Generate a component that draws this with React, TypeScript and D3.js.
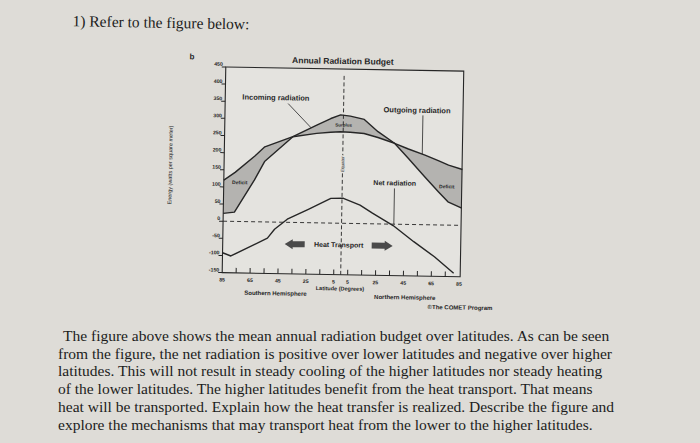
import { useMemo } from "react"
import * as d3 from "d3"

// latitude samples shared by incoming and outgoing curves (negative = south)
const lats = [-85, -77, -63, -56, -36, -19, -9, -2, 5, 15, 25, 37, 47, 59, 69, 76, 86]
const incoming = [23, 27, 122, 176, 250, 285, 305, 316, 313, 304, 269, 236, 193, 140, 97, 68, 50]
const outgoing = [120, 143, 192, 219, 250, 261, 265, 267, 266, 263, 252, 236, 220, 203, 187, 175, 163]

const netLats = [-85, -79, -53, -48, -39, -24, -8, 1, 13, 22, 37, 52, 67, 81]
const netRadiation = [-92, -101, -47, -21, 9, 39, 72, 73, 54, 31, -4, -50, -93, -140]

const yTicks = [450, 400, 350, 300, 250, 200, 150, 100, 50, 0, -50, -100, -150]
const xLabels = [-85, -65, -45, -25, -5, 5, 25, 45, 65, 85]
const xTicks = [-75, -65, -55, -45, -35, -25, -15, -5, 5, 15, 25, 35, 45, 55, 65, 75]

const paragraph = [
  "The figure above shows the mean annual radiation budget over latitudes. As can be seen",
  "from the figure, the net radiation is positive over lower latitudes and negative over higher",
  "latitudes. This will not result in steady cooling of the higher latitudes nor steady heating",
  "of the lower latitudes. The higher latitudes benefit from the heat transport. That means",
  "heat will be transported. Explain how the heat transfer is realized. Describe the figure and",
  "explore the mechanisms that may transport heat from the lower to the higher latitudes.",
]

const sans = "'Liberation Sans', Arial, sans-serif"
const serif = "'Liberation Serif', 'Times New Roman', serif"
const ink = "#262626"

export default function App() {
  const x = d3.scaleLinear().domain([-85, 85]).range([224, 461])
  const y = d3.scaleLinear().domain([-150, 450]).range([274.7, 69])
  const right = 462

  const { band, inLine, outLine, netLine } = useMemo(() => {
    const pts = lats.map((d, i) => ({ lat: d, inc: incoming[i], out: outgoing[i] }))
    const band = d3
      .area<any>()
      .x((d) => x(d.lat))
      .y0((d) => y(d.out))
      .y1((d) => y(d.inc))(pts)
    const inLine = d3
      .line<any>()
      .x((d) => x(d.lat))
      .y((d) => y(d.inc))(pts)
    const outLine = d3
      .line<any>()
      .x((d) => x(d.lat))
      .y((d) => y(d.out))(pts)
    const netLine = d3
      .line<number>()
      .x((d, i) => x(netLats[i]))
      .y((d) => y(d))(netRadiation)
    return { band, inLine, outLine, netLine }
  }, [])

  // piecewise lookups for the leader lines
  const inAt = d3.scaleLinear().domain(lats).range(incoming)
  const outAt = d3.scaleLinear().domain(lats).range(outgoing)

  const arrow = (x0: number, x1: number, cy: number) => {
    // x0 = tip, x1 = tail
    const dir = Math.sign(x1 - x0)
    const hx = x0 + dir * 8
    return `M${x0},${cy} L${hx},${cy - 5} L${hx},${cy - 3} L${x1},${cy - 3} L${x1},${cy + 3} L${hx},${cy + 3} L${hx},${cy + 5} Z`
  }

  return (
    <svg width={700} height={443} style={{ position: "absolute", left: 0, top: 0 }}>
      <rect width={700} height={443} fill="#dedcd7" />
      <g transform="rotate(1, 342, 170)">
        <text x={70} y={31} fontFamily={serif} fontSize={15.5} fill="#1c1c1c">
          1) Refer to the figure below:
        </text>

        <rect x={x(-85)} y={y(450)} width={right - x(-85)} height={y(-150) - y(450)} fill="#e4e3df" />

        <text x={190} y={62} fontFamily={sans} fontSize={8} fontWeight="bold" fill={ink} textAnchor="middle">
          b
        </text>
        <text x={341} y={64} fontFamily={sans} fontSize={8.5} fontWeight="bold" fill={ink} textAnchor="middle">
          Annual Radiation Budget
        </text>

        {/* surplus / deficit shading */}
        <path d={band ?? ""} fill="#b4b3b0" />

        {/* zero line and equator */}
        <line x1={x(-85)} x2={right} y1={y(0)} y2={y(0)} stroke={ink} strokeWidth={0.9} strokeDasharray="4 3" />
        <line x1={x(0)} x2={x(0)} y1={y(430)} y2={y(-150)} stroke={ink} strokeWidth={0.9} strokeDasharray="4 2.5" />

        {/* frame */}
        <path
          d={`M${x(-85)},${y(450)} H${right} V${y(-150)} H${x(-85)} Z`}
          fill="none"
          stroke={ink}
          strokeWidth={1.1}
        />

        {/* y axis ticks */}
        {yTicks.map((t) => (
          <g key={t}>
            <line x1={x(-85) - 4} x2={x(-85)} y1={y(t)} y2={y(t)} stroke={ink} strokeWidth={1} />
            <text
              x={x(-85) - 3}
              y={y(t) - 1}
              fontFamily={sans}
              fontSize={5.2}
              fontWeight="bold"
              fill={ink}
              textAnchor="end"
            >
              {t}
            </text>
          </g>
        ))}
        <text
          transform={`translate(172,168) rotate(-90)`}
          fontFamily={sans}
          fontSize={5.5}
          fill={ink}
          textAnchor="middle"
        >
          Energy (watts per square meter)
        </text>

        {/* x axis ticks */}
        {xTicks.map((t) => (
          <line key={t} x1={x(t)} x2={x(t)} y1={y(-150)} y2={y(-150) - 5} stroke={ink} strokeWidth={1} />
        ))}
        {xLabels.map((t, i) => (
          <text
            key={i}
            x={x(t)}
            y={y(-150) + 9}
            fontFamily={sans}
            fontSize={5.2}
            fontWeight="bold"
            fill={ink}
            textAnchor="middle"
          >
            {Math.abs(t)}
          </text>
        ))}
        <text x={342} y={290.5} fontFamily={sans} fontSize={5.5} fontWeight="bold" fill={ink} textAnchor="middle">
          Latitude (Degrees)
        </text>
        <text x={277.6} y={296.5} fontFamily={sans} fontSize={6} fontWeight="bold" fill={ink} textAnchor="middle">
          Southern Hemisphere
        </text>
        <text x={407} y={298.3} fontFamily={sans} fontSize={6} fontWeight="bold" fill={ink} textAnchor="middle">
          Northern Hemisphere
        </text>
        <text x={430} y={307.5} fontFamily={sans} fontSize={6} fontWeight="bold" fill={ink}>
          ©The COMET Program
        </text>

        {/* curves */}
        <path d={inLine ?? ""} fill="none" stroke={ink} strokeWidth={1.4} strokeLinejoin="round" />
        <path d={outLine ?? ""} fill="none" stroke={ink} strokeWidth={1.4} strokeLinejoin="round" />
        <path d={netLine ?? ""} fill="none" stroke={ink} strokeWidth={1.4} strokeLinejoin="round" />

        {/* labels with leaders */}
        <text x={274.7} y={101.3} fontFamily={sans} fontSize={7.5} fontWeight="bold" fill={ink} textAnchor="middle">
          Incoming radiation
        </text>
        <line x1={287} y1={104.5} x2={x(-23)} y2={y(inAt(-23))} stroke={ink} strokeWidth={0.8} />

        <text x={416} y={111.5} fontFamily={sans} fontSize={7.5} fontWeight="bold" fill={ink} textAnchor="middle">
          Outgoing radiation
        </text>
        <line x1={x(57)} y1={114} x2={x(57)} y2={y(outAt(57))} stroke={ink} strokeWidth={0.8} />

        <text x={395} y={184.5} fontFamily={sans} fontSize={7} fontWeight="bold" fill={ink} textAnchor="middle">
          Net radiation
        </text>
        <line x1={x(37.5)} y1={187.5} x2={x(37.5)} y2={y(0)} stroke={ink} strokeWidth={0.8} />

        <text x={343} y={126.5} fontFamily={sans} fontSize={4.5} fontWeight="bold" fill={ink} textAnchor="middle">
          Surplus
        </text>
        <text x={240} y={186} fontFamily={sans} fontSize={5} fontWeight="bold" fill={ink} textAnchor="middle">
          Deficit
        </text>
        <text x={447} y={186.5} fontFamily={sans} fontSize={5} fontWeight="bold" fill={ink} textAnchor="middle">
          Deficit
        </text>
        <text
          transform={`translate(${x(0) + 1.6},164) rotate(-90)`}
          fontFamily={sans}
          fontSize={4.5}
          fill={ink}
          textAnchor="middle"
          style={{ paintOrder: "stroke" }}
          stroke="#e4e3df"
          strokeWidth={2}
        >
          Equator
        </text>

        {/* heat transport */}
        <path d={arrow(286, 306, 245)} fill="#4a4a4a" />
        <path d={arrow(394, 373, 245)} fill="#4a4a4a" />
        <text x={340} y={247.3} fontFamily={sans} fontSize={7} fontWeight="bold" fill={ink} textAnchor="middle">
          Heat Transport
        </text>
      </g>

      {/* question text (kept level so the lines do not collide) */}
      {paragraph.map((line, i) => (
        <text key={i} x={i === 0 ? 63 : 58} y={341 + i * 17.7} fontFamily={serif} fontSize={15.5} fill="#1c1c1c">
          {line}
        </text>
      ))}
    </svg>
  )
}
